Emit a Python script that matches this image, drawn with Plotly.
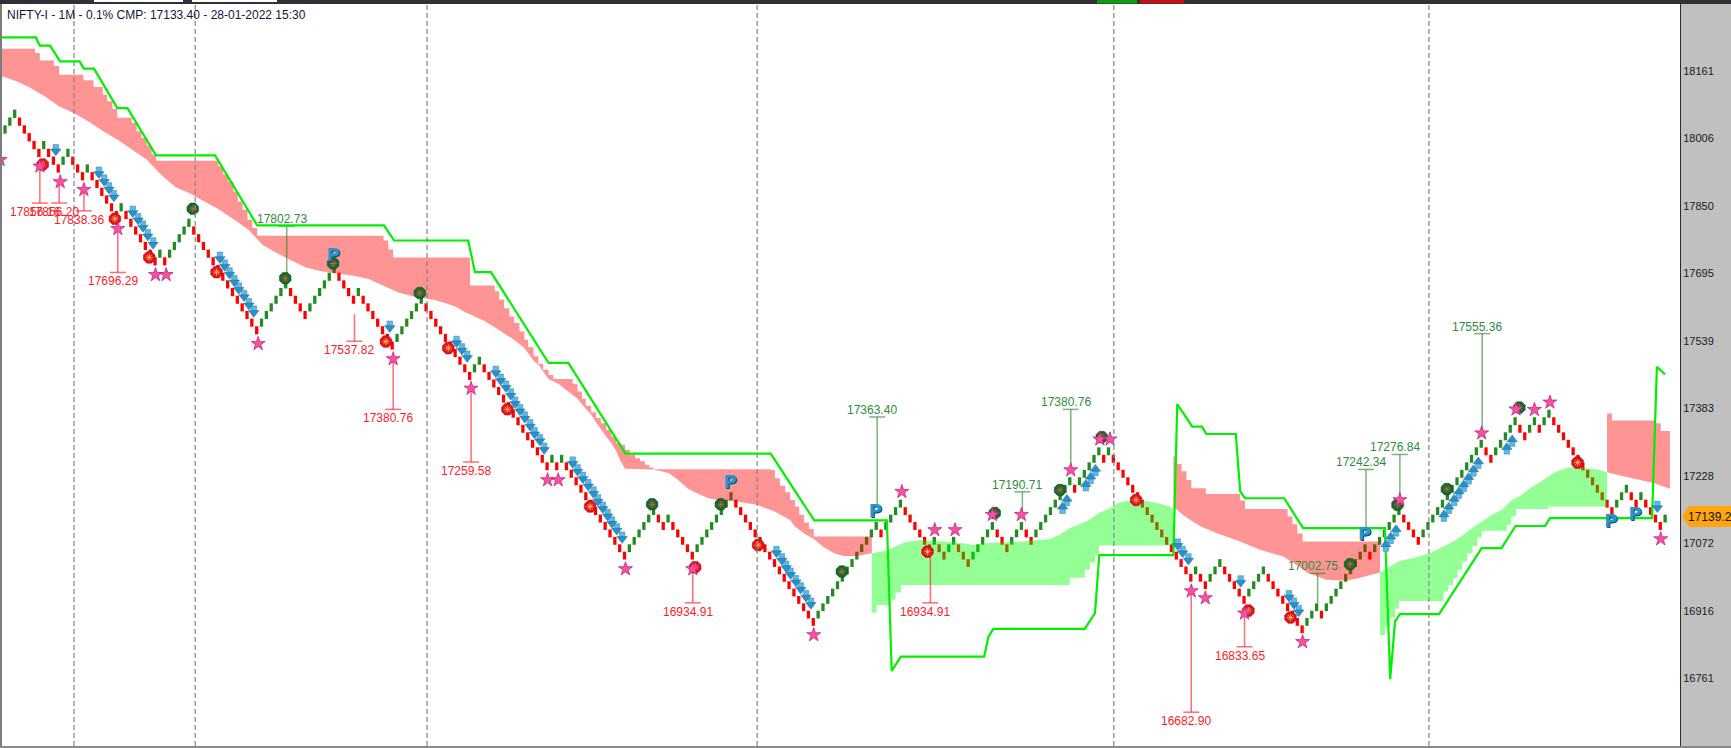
import plotly.graph_objects as go

TITLE = "NIFTY-I - 1M - 0.1% CMP: 17133.40 - 28-01-2022 15:30"
LAST_PRICE = "17139.25"
BOX_FRACTION = 0.001      # 0.1% renko box, as stated in the title
TOP_BRICK = 18062.0       # centre of the highest brick (level 0)

y_ticks = [18161, 18006, 17850, 17695, 17539, 17383, 17228, 17072, 16916, 16761]
session_breaks = [14.26, 39.3, 87.2, 155.4, 229.1, 294.2]

# brick height levels (boxes below the highest brick), one per bar
brick_level = [
    2, 1, 0, 1, 2, 3, 4, 5, 4, 5, 6, 7, 6, 5, 6, 7, 8, 7, 8, 9,
    10, 11, 12, 13, 12, 13, 14, 15, 16, 17, 18, 19, 18, 19, 18, 17, 16, 15, 14, 15,
    16, 17, 18, 19, 20, 21, 22, 23, 24, 25, 26, 27, 28, 27, 26, 25, 24, 23, 22, 23,
    24, 25, 26, 25, 24, 23, 22, 21, 20, 21, 22, 23, 24, 23, 24, 25, 26, 27, 28, 29,
    30, 29, 28, 27, 26, 25, 24, 25, 26, 27, 28, 29, 30, 31, 32, 33, 34, 33, 32, 33,
    34, 35, 36, 37, 38, 39, 40, 41, 42, 43, 44, 45, 46, 45, 46, 45, 46, 47, 48, 49,
    50, 51, 52, 53, 54, 55, 56, 57, 58, 57, 56, 55, 54, 53, 52, 53, 54, 53, 54, 55,
    56, 57, 58, 57, 56, 55, 54, 53, 52, 51, 50, 51, 52, 53, 54, 55, 56, 57, 58, 59,
    60, 61, 62, 63, 64, 65, 66, 67, 66, 65, 64, 63, 62, 61, 60, 59, 58, 57, 56, 55,
    54, 55, 54, 53, 52, 51, 52, 53, 54, 55, 56, 57, 56, 57, 58, 57, 56, 57, 58, 59,
    58, 57, 56, 55, 54, 55, 56, 57, 56, 55, 54, 55, 56, 55, 54, 53, 52, 51, 50, 49,
    48, 49, 48, 47, 46, 45, 44, 45, 44, 45, 46, 47, 48, 49, 50, 51, 52, 53, 54, 55,
    56, 57, 58, 59, 60, 61, 60, 61, 62, 61, 60, 59, 60, 61, 62, 63, 64, 63, 62, 61,
    60, 61, 62, 63, 64, 65, 66, 67, 68, 67, 66, 65, 66, 65, 64, 63, 62, 61, 60, 59,
    58, 57, 58, 57, 56, 55, 54, 53, 52, 53, 54, 55, 56, 55, 54, 53, 52, 51, 50, 49,
    48, 47, 46, 45, 44, 43, 44, 45, 44, 43, 42, 41, 40, 41, 42, 41, 40, 41, 40, 39,
    40, 41, 42, 43, 44, 45, 46, 47, 48, 49, 50, 51, 52, 51, 50, 49, 50, 51, 50, 51,
    52, 53, 54, 53,
]

trend_i = [-0.6, 6.4, 7.2, 9.3, 11.4, 15.4, 16.3, 18.4, 23.2, 25.3, 31.2, 43.4, 52.1, 78.3, 80.4, 95.7,
           97.1, 100.4, 112.3, 116.4, 128.2, 158.2, 167.2, 182.2, 183.2, 185.1, 202.3, 203.2, 204.2,
           223.1, 225.2, 226.1, 241.4, 242.2, 245.3, 247.3, 248.2, 254.3, 255.2, 256.2, 264.3, 268.2,
           285.1, 286.2, 287.2, 288.2, 296.3, 305.1, 309.2, 312.1, 318.2, 319.2, 340.3, 341.3, 343]
trend_price = [18238, 18238, 18219, 18219, 18183, 18183, 18166, 18166, 18075, 18075, 17966, 17966, 17805, 17805,
               17770, 17770, 17697, 17697, 17488, 17488, 17279, 17279, 17125, 17125, 16778, 16811, 16811, 16857,
               16875, 16875, 16911, 17045, 17045, 17393, 17341, 17341, 17324, 17324, 17192, 17176, 17176, 17107,
               17107, 16759, 16892, 16909, 16909, 17061, 17061, 17112, 17112, 17130, 17130, 17479, 17461]

# cloud bands: upper/lower edges of each coloured stretch
bear1_top_i = [-0.7, 6.2, 7.2, 10.1, 11.2, 16.2, 18.3, 20.2, 21.1, 22.2, 23.2, 26.2, 27.2, 28.2, 29.3, 30.3, 31.2,
               44.1, 45.1, 46.1, 47.2, 48.1, 49.1, 50.1, 51.1, 52.1, 78.2, 79.2, 80.2, 96.1, 101.2, 102.1, 103.1,
               104.2, 105.2, 106.3, 107.3, 108.1, 109.2, 110.2, 111.2, 112.3, 113.3, 117.3, 118.3, 119.2, 120.0,
               121.1, 122.1, 123.1, 124.2, 125.3, 126.3, 127.2, 128.1, 129.1, 130.2, 131.2, 132.2, 133.1, 134,
               158.1, 159.1, 160.1, 161.2, 162.2, 163.2, 164.1, 165.1, 166.1, 167.1, 179.1]
bear1_top = [18212, 18202, 18185, 18172, 18152, 18139, 18124, 18106, 18091, 18073, 18053, 18041, 18022, 18006, 17989,
             17968, 17954, 17941, 17922, 17906, 17883, 17860, 17841, 17818, 17799, 17781, 17770, 17749, 17731, 17666,
             17653, 17634, 17614, 17595, 17580, 17560, 17541, 17524, 17503, 17486, 17472, 17460, 17451, 17440, 17422,
             17405, 17389, 17374, 17361, 17349, 17334, 17318, 17303, 17299, 17288, 17276, 17268, 17261, 17253, 17247,
             17243, 17241, 17222, 17205, 17190, 17172, 17157, 17138, 17120, 17105, 17088, 17088]
bear1_low_i = [-0.7, 2.4, 5.2, 8.3, 11.2, 14.3, 17.2, 20.3, 23.2, 26.3, 29.3, 32.2, 35.2, 38.2, 41.3, 44.3, 47.4, 50.3,
               53.2, 56.1, 59.2, 62.3, 65.4, 68.5, 72, 75.1, 78.2, 81.3, 84.4, 86.8, 88.8, 90.9, 93, 95, 97.1, 99.2,
               101.2, 103.3, 105.2, 107.3, 109.2, 110.2, 111.2, 112.3, 114.3, 116.4, 118.3, 120, 121.1, 122.1, 123.1,
               124.2, 125.3, 126.3, 127.2, 128.1, 134, 137.1, 139.1, 141.2, 143.3, 145.3, 148.1, 151.5, 155.3, 159.1,
               162.2, 163.2, 165.1, 167.1, 169.2, 171.3, 173.2, 176.1, 179.1]
bear1_low = [18149, 18137, 18122, 18102, 18079, 18063, 18045, 18022, 18003, 17979, 17956, 17922, 17893, 17878, 17860,
             17841, 17818, 17795, 17760, 17741, 17724, 17707, 17699, 17694, 17689, 17681, 17666, 17650, 17641, 17636,
             17633, 17626, 17618, 17605, 17595, 17584, 17570, 17555, 17541, 17522, 17493, 17484, 17468, 17451, 17440,
             17422, 17405, 17382, 17369, 17351, 17334, 17318, 17303, 17284, 17261, 17244, 17242, 17234, 17218, 17197,
             17186, 17176, 17170, 17168, 17161, 17145, 17126, 17111, 17095, 17082, 17063, 17049, 17043, 17043, 17049]

bull1_top_i = [179.1, 182, 184, 186, 189, 192, 196, 200.1, 204, 209, 214, 216, 218, 220, 222, 224, 226, 228, 230,
               232.1, 236, 238, 240, 241.4]
bull1_top = [17049, 17055, 17065, 17075, 17079, 17078, 17075, 17068, 17074, 17075, 17079, 17082, 17093, 17107, 17116,
             17126, 17142, 17152, 17165, 17171, 17169, 17165, 17159, 17153]
bull1_low_i = [179.1, 180.1, 183, 184, 185.1, 220, 223.1, 224.2, 225.2, 226, 241.4]
bull1_low = [16912, 16930, 16942, 16959, 16976, 16993, 17011, 17028, 17045, 17067, 17067]

bear2_top_i = [241.4, 242.1, 243.1, 244.1, 245.1, 248.1, 255.2, 256.2, 265, 266, 267, 268.1, 284.1]
bear2_top = [17272, 17255, 17238, 17218, 17199, 17186, 17171, 17151, 17134, 17116, 17095, 17076, 17076]
bear2_low_i = [241.4, 243.1, 245.1, 247.1, 250, 255.2, 259.3, 262, 264.1, 266.9, 269, 273, 277, 280, 284.1]
bear2_low = [17157, 17140, 17124, 17111, 17097, 17076, 17057, 17048, 17042, 17022, 17005, 16988, 16986, 16993, 17005]

bull2_top_i = [284.1, 286.2, 288.2, 291, 294.4, 297.2, 299.2, 301.3, 303, 305.1, 307.2, 309.2, 311.3, 313, 315.1,
               318.2, 320.2, 323, 325.8, 329.5, 331]
bull2_top = [17005, 17018, 17032, 17038, 17049, 17065, 17076, 17091, 17107, 17122, 17138, 17149, 17172, 17181, 17199,
             17221, 17236, 17247, 17247, 17241, 17236]
bull2_low_i = [284.1, 285.1, 286.2, 287.2, 288, 297.2, 298.2, 299.2, 300.1, 301.1, 302.1, 303.2, 304.2, 305.1, 310.3,
               311.2, 312.2, 318.9, 331]
bull2_low = [16861, 16880, 16901, 16922, 16939, 16961, 16976, 16992, 17011, 17030, 17049, 17066, 17086, 17101, 17115,
             17134, 17151, 17157, 17157]

bear3_top_i = [331, 332, 341.1, 342.1, 344]
bear3_top = [17371, 17355, 17349, 17331, 17331]
bear3_low_i = [331, 333, 337.1, 340.6, 344]
bear3_low = [17236, 17230, 17220, 17211, 17198]

star_i = [-1, 7.2, 11.4, 16.3, 23.3, 31.1, 33.3, 52.3, 80.2, 96.3, 112.1, 114.3, 128.2, 142.1, 167.1, 185.3, 192.1,
          196.3, 204, 210, 220.2, 226.2, 228.3, 245.1, 248, 256.1, 268.1, 288.2, 305.1, 312.2, 316, 319.2, 342.1]
star_price = [17956, 17941, 17905, 17887, 17797, 17691, 17691, 17532, 17497, 17429, 17218, 17218, 17013, 17013, 16861,
              17191, 17103, 17103, 17138, 17138, 17241, 17312, 17312, 16962, 16946, 16911, 16845, 17172, 17326, 17381,
              17380, 17397, 17082]

red_fist_i = [7.8, 22.7, 29.8, 43.7, 78.7, 91.6, 103.8, 120.9, 142.6, 155.6, 190.6, 233.7, 256.9, 265.6, 324.9]
red_fist_price = [17945, 17820, 17731, 17697, 17537, 17522, 17381, 17157, 17017, 17068, 17053, 17172, 16917, 16901, 17258]
green_fist_i = [38.8, 57.9, 67.8, 85.7, 133.7, 147.9, 172.9, 204.5, 218, 226.6, 277.9, 287.7, 297.9, 312.9]
green_fist_price = [17843, 17683, 17717, 17649, 17162, 17162, 17007, 17142, 17195, 17317, 17024, 17161, 17197, 17385]

down_i = [10.5, 19.4, 20.5, 21.5, 22.5, 26.4, 27.5, 28.5, 29.5, 30.6, 44.4, 45.4, 46.4, 47.4, 48.3, 49.4, 50.4, 51.4,
          79.5, 93.3, 94.4, 95.5, 101.4, 102.4, 103.5, 104.5, 105.4, 106.4, 107.4, 108.5, 109.4, 110.5, 111.4, 117.3,
          118.3, 119.4, 120.5, 121.6, 122.5, 123.5, 124.5, 125.4, 126.4, 127.5, 159.4, 160.5, 161.4, 162.3, 163.4,
          164.4, 165.5, 166.5, 242.3, 243.3, 244.5, 255.3, 265.3, 266.3, 267.3, 341.4]
down_price = [17979, 17927, 17909, 17891, 17873, 17837, 17820, 17803, 17783, 17764, 17731, 17713, 17695, 17677, 17660,
              17643, 17624, 17607, 17572, 17537, 17520, 17503, 17468, 17450, 17434, 17416, 17397, 17380, 17363, 17345,
              17327, 17311, 17291, 17259, 17241, 17224, 17207, 17190, 17172, 17155, 17138, 17121, 17105, 17086, 17053,
              17036, 17019, 17003, 16986, 16969, 16951, 16934, 17070, 17053, 17036, 16985, 16951, 16934, 16917, 17157]
up_i = [218.5, 219.4, 223.3, 224.3, 225.3, 285.3, 286.3, 287.4, 297.3, 298.3, 299.4, 300.4, 301.4, 302.4, 303.4, 304.4,
        310.3, 311.4]
up_price = [17153, 17171, 17205, 17222, 17240, 17066, 17084, 17101, 17135, 17153, 17171, 17188, 17204, 17221, 17239,
            17257, 17290, 17308]
p_i = [67.8, 149.8, 179.8, 280.9, 331.8, 336.8]
p_price = [17733, 17209, 17142, 17090, 17120, 17136]

# labelled targets: bar index, where the stem starts, target value, label
red_stem_i = [7.2, 11.2, 16.3, 23.3, 72.2, 80.2, 96.3, 142.1, 191.2, 245.1, 256.1]
red_stem_from = [17941, 17905, 17887, 17797, 17600, 17497, 17429, 17013, 17053, 16962, 16911]
red_value = [17856.16, 17856.20, 17838.36, 17696.29, 17537.82, 17380.76, 17259.58, 16934.91, 16934.91, 16682.90, 16833.65]
green_stem_i = [58.2, 180.2, 210.2, 220.2, 271.2, 281.2, 288.2, 305.2]
green_stem_from = [17683, 17153, 17138, 17241, 16934, 17088, 17172, 17326]
green_value = [17802.73, 17363.40, 17190.71, 17380.76, 17002.75, 17242.34, 17276.84, 17555.36]

W, H = 1731, 748
L, R, T, B = 2, 51, 4, 2
PX0, BAR_PX = 5.0, 4.84
X_RANGE = [(L - PX0) / BAR_PX, (W - R - PX0) / BAR_PX]
Y_RANGE = [16605, 18315]
FONT = "Liberation Sans, Arial, sans-serif"
BEAR_FILL = "rgba(255,0,0,0.42)"
BULL_FILL = "rgba(0,255,0,0.42)"
ARROW_SHIFT_BOX = 6.0    # price units from an arrow's centre to its shaft
ARROW_SHIFT_HEAD = 3.5   # price units from an arrow's centre to its head


def px_x(px):
    return (px - L) / (W - L - R)


def px_y(px):
    return (H - B - px) / (H - T - B)


centre = [TOP_BRICK * (1 - BOX_FRACTION) ** n for n in brick_level]
half = [c * BOX_FRACTION * 0.53 for c in centre]
colours = []
for k, n in enumerate(brick_level):
    rising = k == 0 or n < brick_level[k - 1]
    colours.append("#228b22" if rising else "#ff0000")

fig = go.Figure()
fig.add_trace(go.Bar(
    x=list(range(len(centre))),
    y=[2 * h for h in half],
    base=[c - h for c, h in zip(centre, half)],
    width=0.68,
    marker=dict(color=colours, line=dict(width=0)),
    hoverinfo="skip",
))


def add_band(top_i, top, low_i, low, fill, top_hv, low_hv):
    fig.add_trace(go.Scatter(x=top_i, y=top, mode="lines", hoverinfo="skip",
                             line=dict(width=0, shape="hv" if top_hv else "linear")))
    fig.add_trace(go.Scatter(x=low_i, y=low, mode="lines", hoverinfo="skip", fill="tonexty", fillcolor=fill,
                             line=dict(width=0, shape="hv" if low_hv else "linear")))


add_band(bear1_top_i, bear1_top, bear1_low_i, bear1_low, BEAR_FILL, True, False)
add_band(bull1_top_i, bull1_top, bull1_low_i, bull1_low, BULL_FILL, False, True)
add_band(bear2_top_i, bear2_top, bear2_low_i, bear2_low, BEAR_FILL, True, False)
add_band(bull2_top_i, bull2_top, bull2_low_i, bull2_low, BULL_FILL, False, True)
add_band(bear3_top_i, bear3_top, bear3_low_i, bear3_low, BEAR_FILL, True, False)


def add_stems(stem_i, stem_from, values, colour):
    xs, ys = [], []
    for i, start, v in zip(stem_i, stem_from, values):
        xs += [i, i, None, i - 1.65, i + 1.65, None]
        ys += [start, v, None, v, v, None]
    fig.add_trace(go.Scatter(x=xs, y=ys, mode="lines", line=dict(color=colour, width=1.5), hoverinfo="skip"))


add_stems(red_stem_i, red_stem_from, red_value, "rgba(255,30,40,0.65)")
add_stems(green_stem_i, green_stem_from, green_value, "rgba(34,130,34,0.6)")

fig.add_trace(go.Scatter(x=trend_i, y=trend_price, mode="lines", line=dict(color="#00f000", width=2.2), hoverinfo="skip"))


def add_arrows(arrow_i, arrow_price, sign):
    # shaft on the tail side, head on the pointing side
    fig.add_trace(go.Scatter(x=arrow_i, y=[p + sign * ARROW_SHIFT_BOX for p in arrow_price], mode="markers",
                             hoverinfo="skip",
                             marker=dict(symbol="square", size=5.5, color="#62b8e2",
                                         line=dict(color="#2b86b8", width=0.5))))
    fig.add_trace(go.Scatter(x=arrow_i, y=[p - sign * ARROW_SHIFT_HEAD for p in arrow_price], mode="markers",
                             hoverinfo="skip",
                             marker=dict(symbol="triangle-down" if sign > 0 else "triangle-up", size=9,
                                         color="#2a90c6", line=dict(color="#1b6f9f", width=0.5))))


add_arrows(down_i, down_price, 1)
add_arrows(up_i, up_price, -1)

fig.add_trace(go.Scatter(x=red_fist_i, y=red_fist_price, mode="markers", hoverinfo="skip",
                         marker=dict(symbol="octagon", size=12.5, color="#e8101e", line=dict(color="#a00010", width=0.5))))
fig.add_trace(go.Scatter(x=red_fist_i, y=red_fist_price, mode="markers", hoverinfo="skip",
                         marker=dict(symbol="asterisk-open", size=6, line=dict(color="#200000", width=0.8))))
fig.add_trace(go.Scatter(x=green_fist_i, y=green_fist_price, mode="markers", hoverinfo="skip",
                         marker=dict(symbol="octagon", size=12.5, color="#0f6b2e", line=dict(color="#0a4d20", width=0.5))))
fig.add_trace(go.Scatter(x=green_fist_i, y=green_fist_price, mode="markers", hoverinfo="skip",
                         marker=dict(symbol="asterisk-open", size=6, line=dict(color="#c09a50", width=0.8))))

fig.add_trace(go.Scatter(x=star_i, y=star_price, mode="markers", hoverinfo="skip",
                         marker=dict(symbol="star", size=10.5, color="#f2559f", line=dict(color="#c8107a", width=0.7))))
fig.add_trace(go.Scatter(x=p_i, y=p_price, mode="text", text=["P"] * len(p_i), hoverinfo="skip",
                         textfont=dict(family="DejaVu Sans", size=18, weight="bold", color="#2b94cb",
                                       shadow="1px 1px 0px #0d4f73")))

annotations = [dict(xref="paper", yref="paper", x=px_x(5), y=px_y(14.5), xanchor="left", yanchor="middle",
                    text=TITLE, showarrow=False, font=dict(family=FONT, size=12, color="#14143c"))]
for i, v in zip(red_stem_i, red_value):
    annotations.append(dict(x=i, y=v, xshift=-5, yshift=-9, text=f"{v:.2f}", showarrow=False,
                            xanchor="center", yanchor="middle", font=dict(family=FONT, size=12, color="#ff1a2a")))
for i, v in zip(green_stem_i, green_value):
    annotations.append(dict(x=i, y=v, xshift=-5, yshift=7, text=f"{v:.2f}", showarrow=False,
                            xanchor="center", yanchor="middle", font=dict(family=FONT, size=12, color="#2e8b3e")))
annotations.append(dict(xref="paper", yref="paper", x=px_x(1686), y=px_y(516.5), xanchor="left", yanchor="middle",
                        text=LAST_PRICE, showarrow=False, font=dict(family=FONT, size=12, color="#111111")))


def rect(x0, y0, x1, y1, colour):
    return dict(type="rect", xref="paper", yref="paper", x0=px_x(x0), x1=px_x(x1), y0=px_y(y0), y1=px_y(y1),
                fillcolor=colour, line=dict(width=0), layer="above")


shapes = [dict(type="line", xref="x", yref="paper", x0=b, x1=b, y0=0, y1=1, layer="above",
               line=dict(color="#858585", width=1.2, dash="5px,3px")) for b in session_breaks]
shapes += [
    rect(0, 0, W, 4, "#303036"),
    rect(94, 0, 183, 2, "#ffffff"),
    rect(192, 0, 277, 2, "#ffffff"),
    rect(1097, 0, 1137, 3.5, "#129a12"),
    rect(1140, 0, 1184, 3.5, "#c01414"),
    rect(0, 4, 2, H, "#7c7c7c"),
    rect(0, 746, W, H, "#8a8a8a"),
    dict(type="path", xref="paper", yref="paper", layer="above", fillcolor="#ffa510", line=dict(width=0),
         path="M {} {} L {} {} L {} {} L {} {} L {} {} Z".format(
             px_x(1682), px_y(516.5), px_x(1689), px_y(506), px_x(W), px_y(506),
             px_x(W), px_y(527), px_x(1689), px_y(527))),
]

fig.update_layout(
    width=W, height=H, autosize=False, showlegend=False, barmode="overlay",
    margin=dict(l=L, r=R, t=T, b=B, pad=0),
    paper_bgcolor="#c0c0c0", plot_bgcolor="#ffffff",
    annotations=annotations, shapes=shapes,
    xaxis=dict(range=X_RANGE, visible=False, fixedrange=True),
    yaxis=dict(range=Y_RANGE, side="right", tickvals=y_ticks, ticktext=[str(t) for t in y_ticks],
               showgrid=False, zeroline=False, showline=True, linecolor="#2a2a2a", linewidth=1,
               ticks="", tickfont=dict(family=FONT, size=11, color="#1a1a1a"), fixedrange=True),
)

fig.write_html("out.html", config={"displayModeBar": False},
               post_script="document.body.style.margin='0';document.body.style.overflow='hidden';")
